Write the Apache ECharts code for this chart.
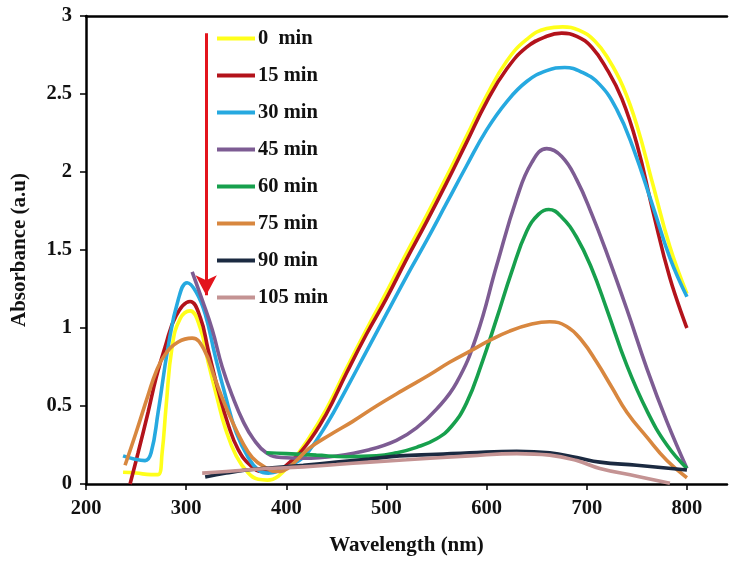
<!DOCTYPE html>
<html>
<head>
<meta charset="utf-8">
<script src="https://cdn.jsdelivr.net/npm/echarts@6/dist/echarts.min.js"></script>
<style>
  html, body { margin: 0; padding: 0; background: #ffffff; }
  #chart { width: 729px; height: 561px; }
</style>
</head>
<body>
<div id="chart"></div>
<script>
// UV-Vis absorbance spectra recorded at successive irradiation times.
// Each series: [wavelength (nm), absorbance (a.u)].
const seriesNames = ['0  min', '15 min', '30 min', '45 min', '60 min', '75 min', '90 min', '105 min'];
const seriesColors = ['#ffff1a', '#b3131b', '#26a9e0', '#7d5c93', '#17a04d', '#d8873f', '#1b2a41', '#c49393'];

const spec0 = [[237,0.075],[250,0.07],[265,0.06],[272,0.06],[276,0.2],[280,0.5],[286,0.88],[294,1.06],[304,1.11],[314,1.0],[322,0.78],[331,0.55],[339,0.36],[350,0.18],[362,0.07],[372,0.03],[381,0.025],[392,0.05],[405,0.14],[420,0.27],[440,0.48],[460,0.74],[480,0.99],[500,1.23],[520,1.48],[540,1.72],[560,1.97],[580,2.23],[600,2.49],[620,2.71],[640,2.85],[660,2.92],[676,2.93],[692,2.91],[708,2.84],[722,2.72],[736,2.55],[750,2.30],[766,1.92],[783,1.52],[800,1.22]];
const spec15 = [[244,0],[252,0.2],[262,0.46],[270,0.68],[279,0.88],[290,1.08],[304,1.17],[314,1.07],[322,0.86],[332,0.6],[342,0.38],[352,0.22],[364,0.12],[376,0.08],[388,0.08],[400,0.12],[420,0.25],[440,0.45],[460,0.71],[480,0.96],[500,1.19],[520,1.44],[540,1.68],[560,1.93],[580,2.19],[600,2.45],[620,2.66],[640,2.80],[660,2.87],[675,2.89],[690,2.87],[705,2.80],[720,2.66],[735,2.47],[750,2.18],[766,1.75],[783,1.32],[800,1.0]];
const spec30 = [[237,0.18],[248,0.16],[259,0.15],[265,0.2],[272,0.46],[282,0.88],[292,1.18],[301,1.29],[310,1.23],[319,1.09],[329,0.82],[339,0.57],[350,0.33],[362,0.17],[372,0.09],[382,0.07],[395,0.09],[410,0.14],[420,0.19],[440,0.38],[460,0.61],[480,0.85],[500,1.09],[520,1.33],[540,1.56],[560,1.80],[580,2.04],[600,2.27],[620,2.45],[640,2.58],[660,2.65],[678,2.67],[695,2.64],[713,2.56],[730,2.40],[746,2.16],[766,1.78],[783,1.45],[800,1.20]];
const spec45 = [[306,1.36],[316,1.18],[326,0.99],[336,0.75],[347,0.55],[357,0.40],[367,0.29],[380,0.20],[395,0.17],[417,0.165],[450,0.18],[483,0.22],[510,0.28],[530,0.36],[550,0.48],[570,0.65],[590,0.95],[610,1.40],[630,1.83],[645,2.06],[660,2.15],[675,2.10],[690,1.95],[705,1.73],[720,1.48],[740,1.12],[760,0.74],[780,0.40],[800,0.10]];
const spec60 = [[380,0.20],[400,0.195],[430,0.185],[460,0.175],[490,0.18],[510,0.20],[530,0.235],[550,0.29],[565,0.37],[580,0.52],[595,0.77],[610,1.06],[625,1.36],[640,1.62],[652,1.73],[662,1.76],[675,1.71],[690,1.58],[705,1.38],[720,1.12],[740,0.76],[760,0.47],[780,0.25],[800,0.10]];
const spec75 = [[239,0.12],[250,0.33],[262,0.57],[270,0.72],[279,0.83],[292,0.91],[306,0.935],[318,0.86],[329,0.67],[338,0.52],[346,0.40],[356,0.27],[366,0.17],[378,0.11],[390,0.08],[397,0.085],[410,0.15],[423,0.23],[445,0.32],[466,0.40],[490,0.50],[516,0.60],[543,0.70],[563,0.78],[583,0.85],[603,0.92],[623,0.98],[645,1.025],[663,1.04],[680,1.01],[695,0.92],[710,0.78],[725,0.62],[740,0.46],[760,0.30],[780,0.15],[800,0.04]];
const spec90 = [[319,0.045],[340,0.07],[360,0.09],[380,0.10],[417,0.12],[450,0.14],[483,0.16],[513,0.18],[550,0.19],[583,0.20],[630,0.21],[663,0.20],[690,0.17],[713,0.14],[750,0.12],[800,0.09]];
const spec105 = [[316,0.07],[340,0.08],[370,0.095],[417,0.11],[450,0.125],[483,0.14],[520,0.155],[583,0.18],[630,0.195],[663,0.185],[690,0.15],[713,0.10],[750,0.05],[783,0.005]];
const spectra = [spec0, spec15, spec30, spec45, spec60, spec75, spec90, spec105];

// Axis ticks
const xTicks = [200, 300, 400, 500, 600, 700, 800];

// Direction of decreasing absorbance with time
const arrowWavelength = 320;
const arrowFrom = 2.89;
const arrowTo = 1.21;

const serif = '"Liberation Serif", "Times New Roman", serif';

const chart = echarts.init(document.getElementById('chart'), null, { renderer: 'canvas' });

const lineSeries = seriesNames.map((name, i) => ({
  name: name,
  type: 'line',
  data: spectra[i],
  smooth: 0.45,
  showSymbol: false,
  symbol: 'none',
  color: seriesColors[i],
  lineStyle: { width: 3.6, color: seriesColors[i] },
  z: 2 + i
}));

lineSeries.push({
  name: 'arrow',
  type: 'line',
  data: [],
  silent: true,
  markLine: {
    silent: true,
    symbol: ['none', 'arrow'],
    symbolSize: [16, 20],
    label: { show: false },
    lineStyle: { color: '#e3141c', width: 3, type: 'solid' },
    data: [[{ coord: [arrowWavelength, arrowFrom] }, { coord: [arrowWavelength, arrowTo] }]]
  },
  z: 20
});

const option = {
  animation: false,
  backgroundColor: '#ffffff',
  grid: { left: 86, right: 2, top: 16, bottom: 67, containLabel: false },
  legend: {
    data: seriesNames,
    orient: 'vertical',
    left: 212,
    top: 23,
    icon: 'rect',
    itemWidth: 38,
    itemHeight: 4,
    itemGap: 16,
    textStyle: { fontFamily: serif, fontWeight: 'bold', fontSize: 20.5, color: '#111', lineHeight: 21, padding: [0, 0, 0, -2] }
  },
  xAxis: [{
    type: 'value',
    min: 200,
    max: 840,
    name: 'Wavelength (nm)',
    nameLocation: 'middle',
    nameGap: 51,
    nameTextStyle: { fontFamily: serif, fontWeight: 'bold', fontSize: 21, color: '#111' },
    axisLine: { show: true, onZero: false, lineStyle: { color: '#000', width: 2.5 } },
    axisTick: { show: true, inside: false, length: 6, customValues: xTicks, lineStyle: { color: '#000', width: 1.5 } },
    axisLabel: { customValues: xTicks, margin: 14, fontFamily: serif, fontWeight: 'bold', fontSize: 20.5, color: '#111' },
    splitLine: { show: false }
  }, {
    type: 'value',
    position: 'top',
    min: 200,
    max: 840,
    axisLine: { show: true, onZero: false, lineStyle: { color: '#000', width: 2.5 } },
    axisTick: { show: false },
    axisLabel: { show: false },
    splitLine: { show: false }
  }],
  yAxis: {
    type: 'value',
    min: 0,
    max: 3,
    interval: 0.5,
    name: 'Absorbance (a.u)',
    nameLocation: 'middle',
    nameGap: 56,
    nameRotate: 90,
    nameTextStyle: { fontFamily: serif, fontWeight: 'bold', fontSize: 21, color: '#111' },
    axisLine: { show: true, onZero: false, lineStyle: { color: '#000', width: 2.5 } },
    axisTick: { show: true, inside: false, length: 6, lineStyle: { color: '#000', width: 1.5 } },
    axisLabel: { margin: 14, fontFamily: serif, fontWeight: 'bold', fontSize: 20.5, color: '#111',
      formatter: v => String(v) },
    splitLine: { show: false }
  },
  series: lineSeries
};

chart.setOption(option);
</script>
</body>
</html>
